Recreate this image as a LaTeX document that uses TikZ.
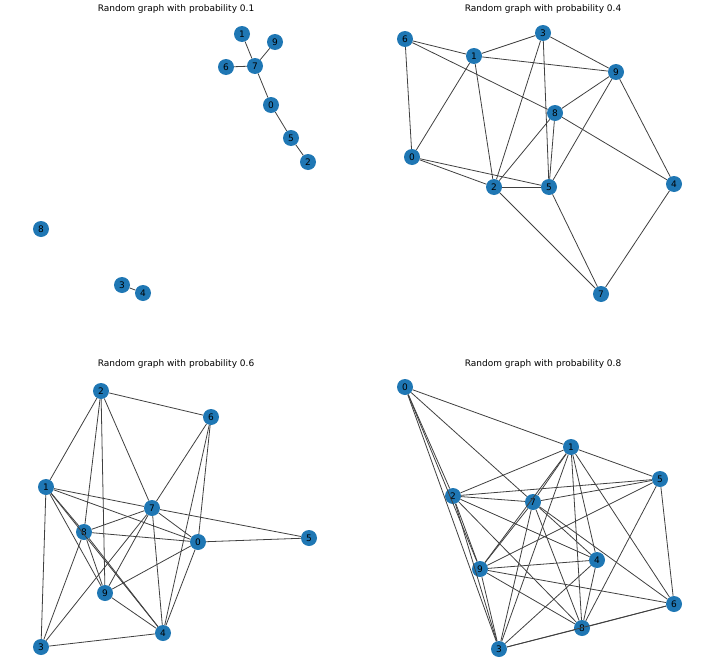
\documentclass[tikz,border=0pt]{standalone}
\usepackage{fontspec}
\setmainfont{DejaVu Sans}
\begin{document}
\begin{tikzpicture}[x=1pt,y=-1pt,
  vert/.style={circle,fill={rgb,255:red,31;green,119;blue,180},inner sep=0pt,minimum size=16pt,font=\fontsize{9}{9}\selectfont},
  edge/.style={draw=black!75,line width=0.8pt},
  ttl/.style={font=\fontsize{9}{9}\selectfont}]
\useasboundingbox (0,0) rectangle (724,664);
\node[ttl] (t1) at (176,9) {Random graph with probability 0.1};
\node[ttl] (t2) at (543,9) {Random graph with probability 0.4};
\node[ttl] (t3) at (176,364) {Random graph with probability 0.6};
\node[ttl] (t4) at (543,364) {Random graph with probability 0.8};
% panel 1
\begin{scope}[every node/.style={vert}]
\node (a1) at (242,34) {1}; \node (a9) at (275,42) {9}; \node (a6) at (226,67) {6};
\node (a7) at (255,66) {7}; \node (a0) at (271,105) {0}; \node (a5) at (291,138) {5};
\node (a2) at (308,162) {2}; \node (a8) at (41,229) {8}; \node (a3) at (122,285) {3};
\node (a4) at (143,293) {4};
% panel 2
\node (b6) at (405,39) {6}; \node (b1) at (474,56) {1}; \node (b3) at (543,33) {3};
\node (b9) at (616,72) {9}; \node (b8) at (555,113) {8}; \node (b0) at (412,157) {0};
\node (b2) at (494,187) {2}; \node (b5) at (549,187) {5}; \node (b4) at (674,184) {4};
\node (b7) at (601,294) {7};
% panel 3
\node (c2) at (101,391) {2}; \node (c6) at (211,417) {6}; \node (c1) at (46,487) {1};
\node (c7) at (152,508) {7}; \node (c8) at (84,532) {8}; \node (c0) at (198,542) {0};
\node (c5) at (309,538) {5}; \node (c9) at (105,593) {9}; \node (c4) at (163,633) {4};
\node (c3) at (41,647) {3};
% panel 4
\node (d0) at (405,387) {0}; \node (d1) at (571,447) {1}; \node (d5) at (660,479) {5};
\node (d2) at (453,496) {2}; \node (d7) at (533,502) {7}; \node (d4) at (597,560) {4};
\node (d9) at (480,569) {9}; \node (d6) at (674,604) {6}; \node (d8) at (582,628) {8};
\node (d3) at (499,649) {3};
\end{scope}
\begin{scope}[on background layer/.style={}]
\end{scope}
\begin{pgfinterruptboundingbox}\end{pgfinterruptboundingbox}
\foreach \u/\v in {a1/a7,a9/a7,a6/a7,a7/a0,a0/a5,a5/a2,a3/a4,
 b6/b1,b6/b0,b6/b8,b1/b3,b1/b9,b1/b0,b1/b2,b3/b9,b3/b2,b3/b5,b9/b8,b9/b5,b9/b4,b8/b2,b8/b5,b8/b4,b0/b2,b0/b5,b2/b5,b2/b7,b5/b7,b4/b7,
 c2/c6,c2/c1,c2/c8,c2/c9,c2/c7,c6/c7,c6/c0,c6/c4,c1/c7,c1/c0,c1/c8,c1/c9,c1/c4,c1/c3,c7/c8,c7/c0,c7/c5,c7/c9,c7/c3,c7/c4,c8/c0,c8/c3,c8/c9,c8/c4,c0/c5,c0/c9,c0/c4,c9/c4,c3/c4,
 d0/d1,d0/d7,d0/d2,d0/d9,d0/d3,d1/d2,d1/d5,d1/d7,d1/d9,d1/d3,d1/d8,d1/d4,d1/d6,d5/d2,d5/d7,d5/d9,d5/d8,d5/d6,d2/d7,d2/d4,d2/d8,d2/d9,d2/d3,d7/d9,d7/d3,d7/d8,d7/d4,d7/d6,d9/d4,d9/d6,d9/d8,d9/d3,d4/d3,d4/d8,d8/d6,d8/d3,d3/d6}
  \draw[edge] (\u) -- (\v);
\end{tikzpicture}
\end{document}
